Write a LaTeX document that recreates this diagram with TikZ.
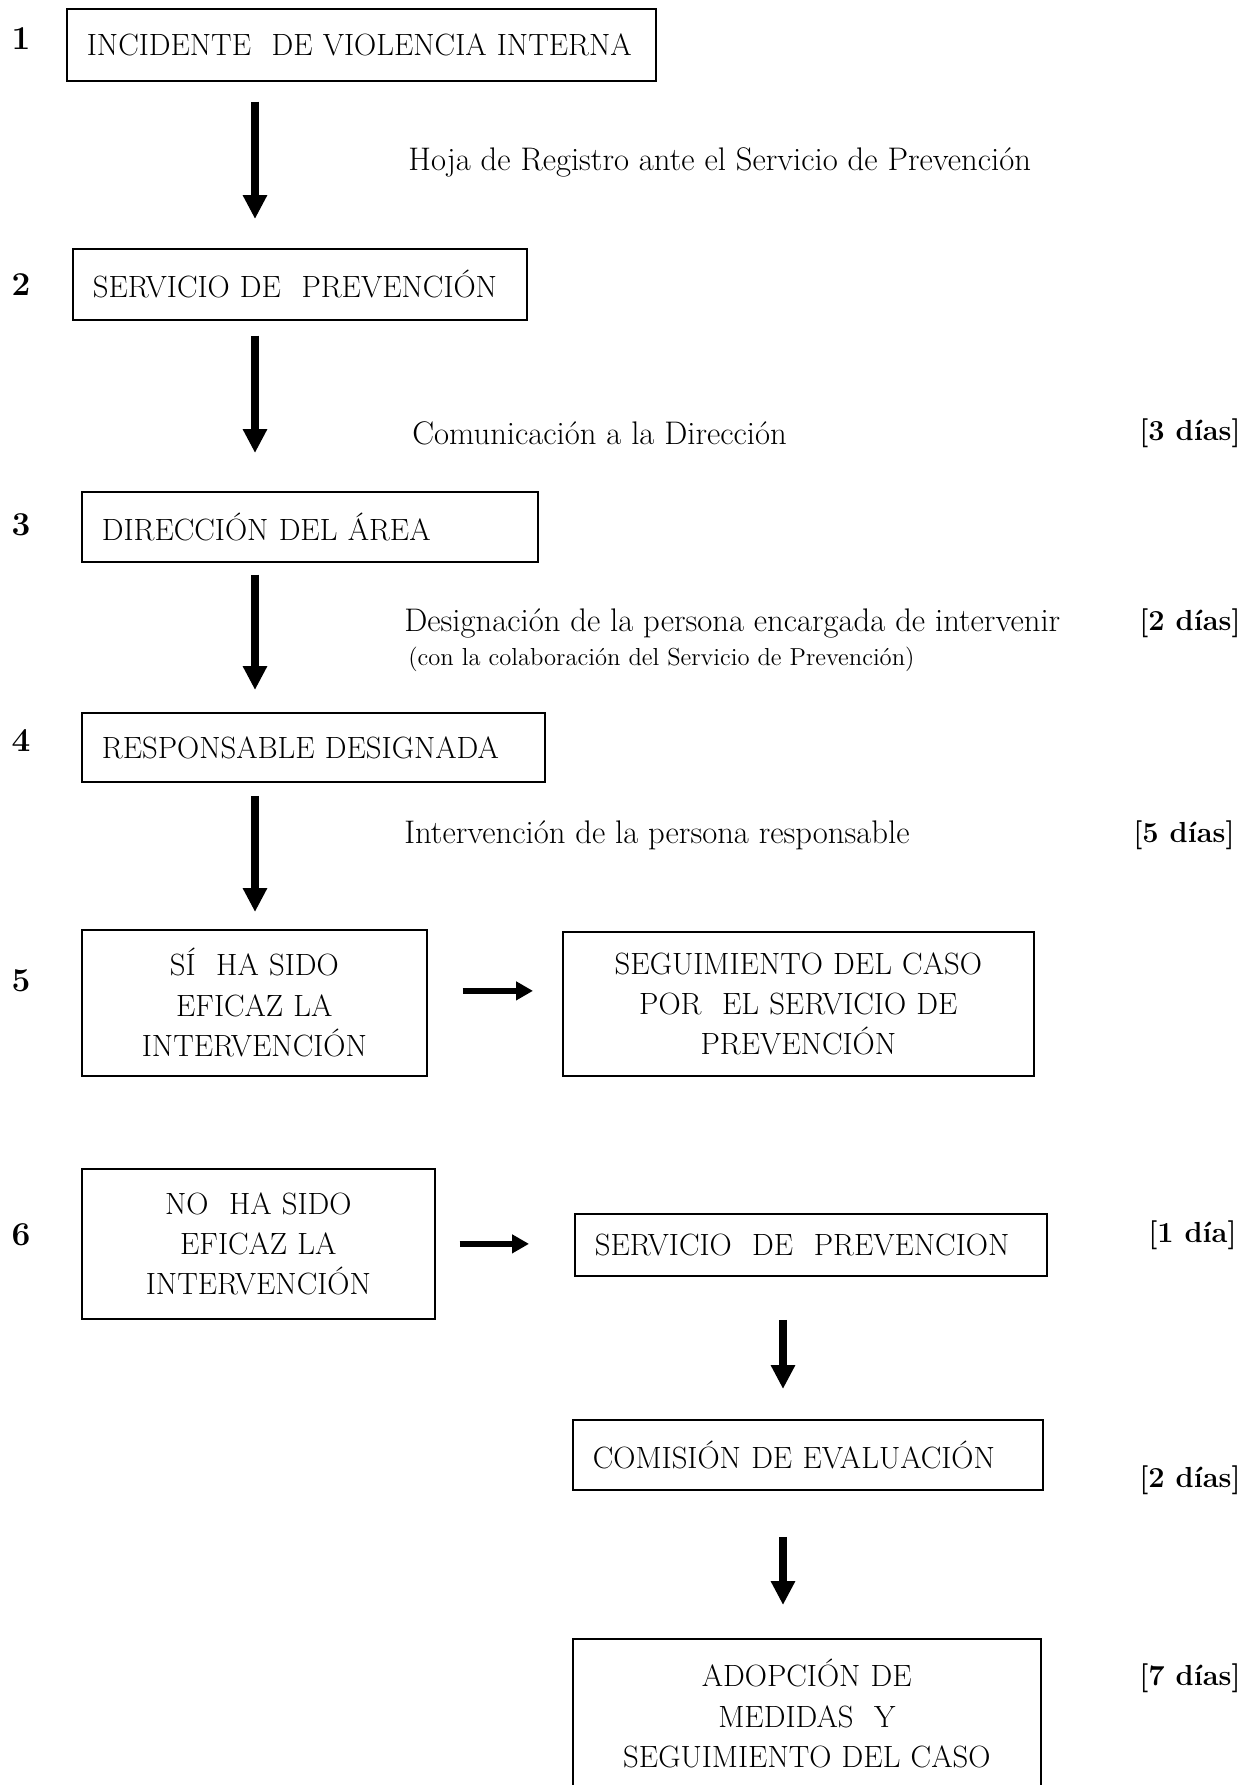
\documentclass[tikz,border=0pt]{standalone}
\usetikzlibrary{arrows.meta,positioning}
\tikzset{
  caja/.style={draw, line width=1pt, anchor=north west, inner xsep=0.4cm, inner ysep=0pt,
    align=left, font=\fontsize{17.5}{23}\selectfont},
  cajac/.style={caja, align=center, inner xsep=0pt},
  flecha/.style={line width=4.4pt, -{Triangle[length=0.48cm,width=0.46cm]}},
  flechac/.style={line width=3.4pt, -{Triangle[length=0.34cm,width=0.36cm]}},
  paso/.style={inner sep=0pt, font=\fontsize{19}{21}\selectfont\bfseries},
  nota/.style={anchor=west, inner sep=0pt, font=\fontsize{18.6}{21}\selectfont},
  plazo/.style={anchor=east, inner sep=0pt, font=\fontsize{16.5}{20}\selectfont\bfseries},
}
\begin{document}
\begin{tikzpicture}[x=0.02cm, y=-0.02cm]
  \useasboundingbox (0,0) rectangle (1257,1785);
  % columnas de las flechas
  \coordinate (colL) at (255,0);
  \coordinate (colR) at (783,0);

  % pasos
  \foreach \n/\y in {1/39,2/285,3/525,4/741,5/981,6/1235}{
    \node[paso] (n\n) at (21,\y) {\n};
  }

  % cajas
  \node[caja, text width=10.98cm, minimum height=1.44cm] (inc) at (66,8) {INCIDENTE~ DE VIOLENCIA INTERNA};
  \node[caja, text width=8.28cm, minimum height=1.42cm] (serv) at (72,248) {SERVICIO DE~ PREVENCIÓN};
  \node[caja, text width=8.32cm, minimum height=1.4cm] (dir) at (81,491) {DIRECCIÓN DEL ÁREA};
  \node[caja, text width=8.46cm, minimum height=1.38cm] (resp) at (81,712) {RESPONSABLE DESIGNADA};
  \node[cajac, text width=6.9cm, minimum height=2.92cm] (si) at (81,929) {SÍ~ HA SIDO\\EFICAZ LA\\INTERVENCIÓN};
  \node[cajac, text width=9.42cm, minimum height=2.88cm] (seg) at (562,931) {SEGUIMIENTO DEL CASO\\POR~ EL SERVICIO DE\\PREVENCIÓN};
  \node[cajac, text width=7.06cm, minimum height=3cm] (no) at (81,1168) {NO~ HA SIDO\\EFICAZ LA\\INTERVENCIÓN};
  \node[caja, text width=8.64cm, minimum height=1.24cm] (serv2) at (574,1213) {SERVICIO~ DE~ PREVENCION};
  \node[caja, text width=8.6cm, minimum height=1.4cm] (com) at (572,1419) {COMISIÓN DE EVALUACIÓN};
  \node[cajac, text width=9.36cm, minimum height=3cm] (adop) at (572,1638) {ADOPCIÓN DE\\MEDIDAS~ Y\\SEGUIMIENTO DEL CASO};

  % textos entre pasos
  \node[nota] (hoja) at (408,162) {Hoja de Registro ante el Servicio de Prevención};
  \node[nota] (comu) at (412,433) {Comunicación a la Dirección};
  \node[nota] (desig) at (404,623) {Designación de la persona encargada de intervenir};
  \node[nota, font=\fontsize{14}{16}\selectfont] (colab) at (408,659) {(con la colaboración del Servicio de Prevención)};
  \node[nota] (interv) at (404,835) {Intervención de la persona responsable};

  % plazos
  \node[plazo] (p3) at (1241,433) {[3 días]};
  \node[plazo] (p2) at (1241,623) {[2 días]};
  \node[plazo] (p5) at (1235,835) {[5 días]};
  \node[plazo] (p1) at (1237,1235) {[1 día]};
  \node[plazo] (p2b) at (1241,1480) {[2 días]};
  \node[plazo] (p7) at (1241,1678) {[7 días]};

  % flechas
  \draw[flecha, shorten <=.4cm, shorten >=.58cm] (inc.south -| colL) -- (serv.north -| colL);
  \draw[flecha, shorten <=.3cm, shorten >=.76cm] (serv.south -| colL) -- (dir.north -| colL);
  \draw[flecha, shorten <=.24cm, shorten >=.44cm] (dir.south -| colL) -- (resp.north -| colL);
  \draw[flecha, shorten <=.26cm, shorten >=.34cm] (resp.south -| colL) -- (si.north -| colL);
  \draw[flechac, shorten <=.7cm, shorten >=.58cm] ([yshift=.24cm]si.east) -- ([yshift=.24cm]si.east -| seg.west);
  \draw[flechac, shorten <=.48cm, shorten >=.9cm] (no.east) -- (no.east -| serv2.west);
  \draw[flecha, shorten <=.86cm, shorten >=.6cm] (serv2.south -| colR) -- (com.north -| colR);
  \draw[flecha, shorten <=.92cm, shorten >=.66cm] (com.south -| colR) -- (adop.north -| colR);
\end{tikzpicture}
\end{document}
